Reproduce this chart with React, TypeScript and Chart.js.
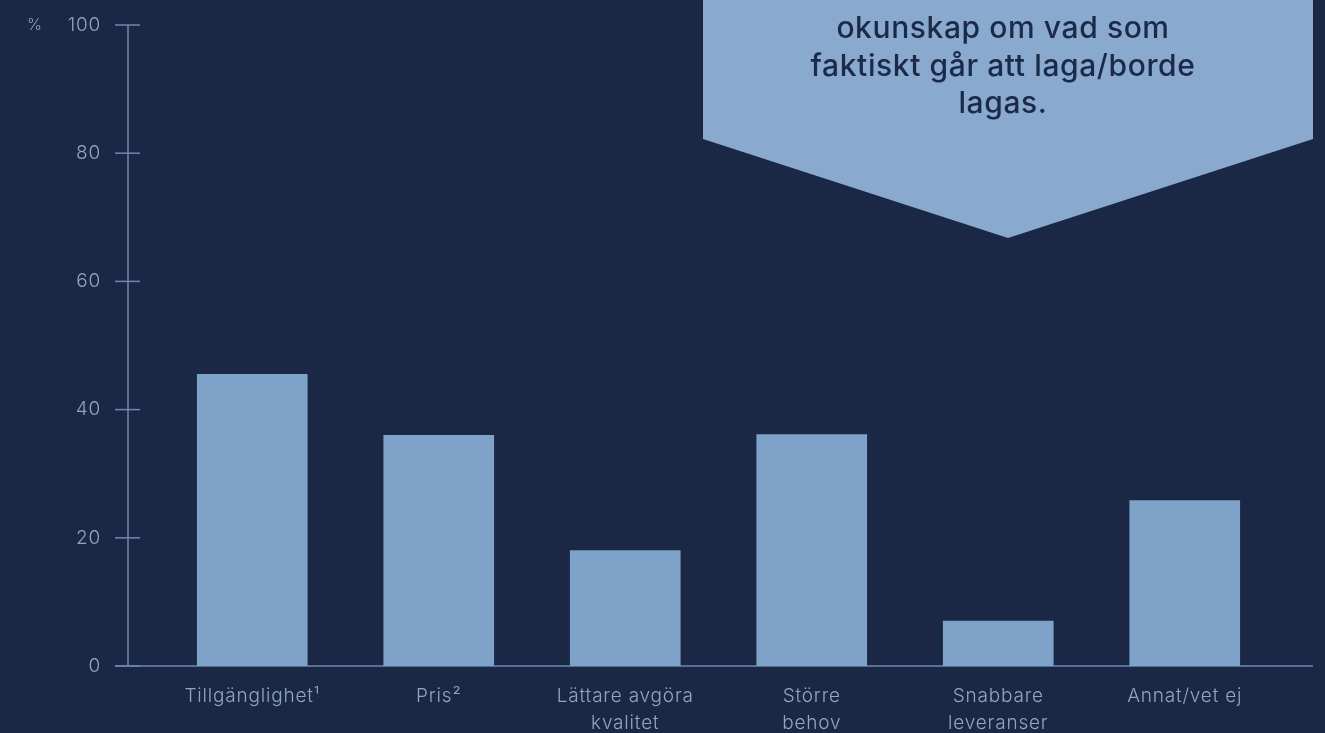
import React, { useEffect, useRef } from "react";
import { Chart, registerables } from "chart.js";

Chart.register(...registerables);

const categories: (string | string[])[] = [
  "Tillgänglighet¹",
  "Pris²",
  ["Lättare avgöra", "kvalitet"],
  ["Större", "behov"],
  ["Snabbare", "leveranser"],
  "Annat/vet ej",
];
const values: number[] = [45.5, 36, 18, 36.1, 7, 25.8];
const yTicks: number[] = [0, 20, 40, 60, 80, 100];
const unitLabel = "%";
const calloutLines: string[] = ["okunskap om vad som", "faktiskt går att laga/borde", "lagas."];

const BG = "#1b2845";
const BAR = "#7fa2c8";
const AXIS = "#6a8ab3";
const TICK_TEXT = "#8ea5c4";
const CALLOUT = "#8aa9ce";
const FONT = "Inter, 'Open Sans', sans-serif";

const decorPlugin = {
  id: "decor",
  beforeDraw(chart: any) {
    (chart.ctx as any).letterSpacing = "0.8px";
  },
  beforeDatasetsDraw(chart: any) {
    const { ctx } = chart;
    const y = chart.scales.y;
    const axisX = 128;
    ctx.save();
    ctx.strokeStyle = AXIS;
    ctx.lineWidth = 1.5;
    ctx.beginPath();
    ctx.moveTo(axisX, y.getPixelForValue(100));
    ctx.lineTo(axisX, y.getPixelForValue(0));
    ctx.stroke();
    yTicks.forEach((v) => {
      const py = y.getPixelForValue(v);
      ctx.beginPath();
      ctx.moveTo(115, py);
      ctx.lineTo(140, py);
      ctx.stroke();
    });
    const p0 = y.getPixelForValue(0);
    ctx.beginPath();
    ctx.moveTo(115, p0);
    ctx.lineTo(1313, p0);
    ctx.stroke();
    ctx.fillStyle = TICK_TEXT;
    ctx.font = `300 16px ${FONT}`;
    ctx.textAlign = "left";
    ctx.textBaseline = "middle";
    ctx.fillText(unitLabel, 27, y.getPixelForValue(100));
    ctx.restore();
  },
  afterDraw(chart: any) {
    const { ctx } = chart;
    ctx.save();
    ctx.fillStyle = CALLOUT;
    ctx.beginPath();
    ctx.moveTo(703, -10);
    ctx.lineTo(1313, -10);
    ctx.lineTo(1313, 139);
    ctx.lineTo(1008, 238);
    ctx.lineTo(703, 139);
    ctx.closePath();
    ctx.fill();
    ctx.fillStyle = "#1b2a48";
    (ctx as any).letterSpacing = "0.6px";
    ctx.font = `500 30px ${FONT}`;
    ctx.textAlign = "center";
    ctx.textBaseline = "middle";
    calloutLines.forEach((l, i) => {
      ctx.fillText(l, 1003, 29 + i * 37.5);
    });
    ctx.restore();
  },
};

export default function App() {
  const ref = useRef<HTMLCanvasElement>(null);
  useEffect(() => {
    if (!ref.current) return;
    const chart = new Chart(ref.current, {
      type: "bar",
      data: {
        labels: categories as any,
        datasets: [
          {
            data: values,
            backgroundColor: BAR,
            borderWidth: 0,
            barThickness: 110,
          },
        ],
      },
      options: {
        responsive: false,
        animation: false,
        layout: { padding: { top: 25, right: 47, left: 0, bottom: 0 } },
        plugins: { legend: { display: false }, tooltip: { enabled: false } },
        scales: {
          x: {
            grid: { display: false },
            border: { display: false },
            ticks: {
              color: TICK_TEXT,
              font: { family: FONT, size: 19, weight: 300 as any, lineHeight: 1.42 },
              padding: 9,
              maxRotation: 0,
              autoSkip: false,
            },
            afterFit(s: any) {
              s.height = 67;
            },
          },
          y: {
            min: 0,
            max: 100,
            grid: { display: false },
            border: { display: false },
            ticks: {
              stepSize: 20,
              color: TICK_TEXT,
              font: { family: FONT, size: 19, weight: 300 as any },
              padding: 50,
            },
            afterFit(s: any) {
              s.width = 159;
              s.paddingTop = 10;
              s.paddingBottom = 10;
            },
          },
        },
      },
      plugins: [decorPlugin],
    });
    return () => chart.destroy();
  }, []);
  return (
    <div style={{ position: "fixed", left: 0, top: 0, width: 1325, height: 733, background: BG }}>
      <canvas ref={ref} width={1325} height={733} style={{ display: "block" }} />
    </div>
  );
}
